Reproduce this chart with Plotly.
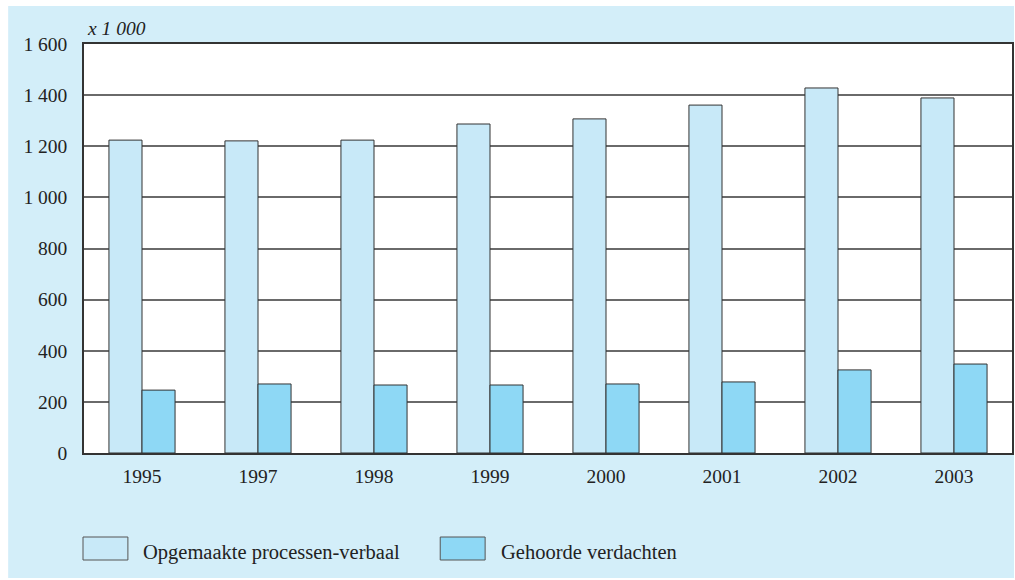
import plotly.graph_objects as go

years = ["1995", "1997", "1998", "1999", "2000", "2001", "2002", "2003"]
processen_verbaal = [1224, 1221, 1224, 1287, 1307, 1361, 1428, 1389]
gehoorde_verdachten = [246, 270, 266, 266, 270, 278, 325, 348]

y_tickvals = [0, 200, 400, 600, 800, 1000, 1200, 1400, 1600]
y_ticktext = ["0", "200", "400", "600", "800", "1 000", "1 200", "1 400", "1 600"]

series_names = ["Opgemaakte processen-verbaal", "Gehoorde verdachten"]
light = "#c8e9f8"
dark = "#8ed8f5"
panel = "#d3eef9"
edge = "#333333"
FONT = "Liberation Serif, DejaVu Serif, serif"

fig = go.Figure()
fig.add_trace(go.Bar(x=years, y=processen_verbaal, name=series_names[0],
                     marker=dict(color=light, line=dict(color=edge, width=1))))
fig.add_trace(go.Bar(x=years, y=gehoorde_verdachten, name=series_names[1],
                     marker=dict(color=dark, line=dict(color=edge, width=1))))

W, H = 1015, 580
L, R, T, B = 84, 1014, 44, 453
pw, ph = R - L, B - T

def px(x):
    return (x - L) / pw

def py(y):
    return (B - y) / ph

shapes = [
    dict(type="rect", xref="paper", yref="paper", layer="below",
         x0=px(8), x1=px(1016), y0=py(578), y1=py(6),
         fillcolor=panel, line=dict(width=0)),
    dict(type="rect", xref="paper", yref="paper", layer="below",
         x0=0, x1=1, y0=0, y1=1, fillcolor="white", line=dict(width=0)),
    dict(type="rect", xref="paper", yref="paper",
         x0=px(83), x1=px(128), y0=py(560), y1=py(537),
         fillcolor=light, line=dict(color="#555555", width=1)),
    dict(type="rect", xref="paper", yref="paper",
         x0=px(441), x1=px(486), y0=py(560), y1=py(537),
         fillcolor=dark, line=dict(color="#555555", width=1)),
]

annotations = [
    dict(text="<i>x 1 000</i>", xref="paper", yref="paper", x=px(85), y=py(28),
         xanchor="left", yanchor="middle", showarrow=False,
         font=dict(family=FONT, size=19.5, color="#222222")),
    dict(text=series_names[0], xref="paper", yref="paper", x=px(141), y=py(552),
         xanchor="left", yanchor="middle", showarrow=False,
         font=dict(family=FONT, size=20.5, color="#222222")),
    dict(text=series_names[1], xref="paper", yref="paper", x=px(500), y=py(552),
         xanchor="left", yanchor="middle", showarrow=False,
         font=dict(family=FONT, size=20.5, color="#222222")),
]

fig.update_layout(
    width=W, height=H,
    margin=dict(l=L, r=W - R, t=T, b=H - B, pad=0),
    paper_bgcolor="white",
    plot_bgcolor="white",
    barmode="group",
    bargap=0.43,
    bargroupgap=0,
    showlegend=False,
    shapes=shapes,
    annotations=annotations,
    font=dict(family=FONT, size=19.5, color="#222222"),
)
fig.update_xaxes(
    showline=True, mirror=True, linecolor=edge, linewidth=1.5,
    showgrid=False, ticks="outside", ticklen=5, tickcolor="rgba(0,0,0,0)",
    tickfont=dict(family=FONT, size=19.5, color="#222222"),
)
fig.update_yaxes(
    range=[0, 1600], tickvals=y_tickvals, ticktext=y_ticktext,
    showline=True, mirror=True, linecolor=edge, linewidth=1.5,
    showgrid=True, gridcolor="#6a6a6a", gridwidth=1.5,
    zeroline=False,
    ticks="outside", ticklen=11, tickcolor="rgba(0,0,0,0)",
    tickfont=dict(family=FONT, size=19.5, color="#222222"),
)

fig.write_html("out.html", config={"displayModeBar": False})
with open("out.html", "r", encoding="utf-8") as f:
    html = f.read()
html = html.replace("<head>", "<head><style>html,body{margin:0;padding:0;overflow:hidden;}</style>", 1)
with open("out.html", "w", encoding="utf-8") as f:
    f.write(html)
